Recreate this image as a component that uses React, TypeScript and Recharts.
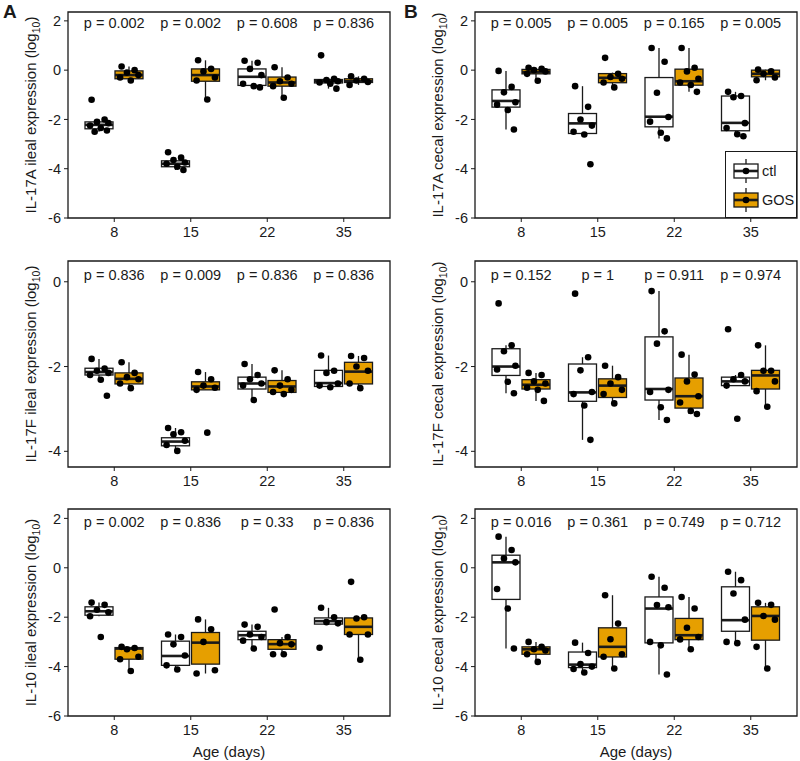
import React from 'react';
import { ComposedChart, Bar, Scatter, XAxis, YAxis, ReferenceArea, Label, Legend } from 'recharts';

const DAYS = ['8', '15', '22', '35'];
const GROUPS = ['ctl', 'GOS'];

// box stats per day: [lower whisker, q1, median, q3, upper whisker]
// IL-17A ileal
const il17aIlealCtl = [
  [-1.2, -2.0, -2.1, -2.15, -2.25, -2.35, -2.45, -2.5],
  [-3.33, -3.55, -3.65, -3.75, -3.8, -3.92, -4.05],
  [0.38, 0.3, 0.05, -0.2, -0.55, -0.65, -0.7],
  [0.6, -0.35, -0.4, -0.45, -0.5, -0.55, -0.75],
];
const il17aIlealCtlBox = [
  [-2.5, -2.38, -2.22, -2.1, -2.0],
  [-4.05, -3.92, -3.8, -3.68, -3.55],
  [-0.7, -0.62, -0.27, 0.05, 0.38],
  [-0.75, -0.52, -0.45, -0.38, -0.35],
];
const il17aIlealGos = [
  [0.15, 0.0, -0.1, -0.2, -0.3, -0.42],
  [0.4, 0.05, -0.05, -0.3, -0.42, -1.19],
  [0.12, -0.3, -0.45, -0.55, -0.65, -1.12],
  [-0.25, -0.35, -0.42, -0.48, -0.6],
];
const il17aIlealGosBox = [
  [-0.42, -0.35, -0.2, -0.03, 0.15],
  [-1.19, -0.45, -0.2, 0.05, 0.4],
  [-1.12, -0.65, -0.5, -0.28, 0.12],
  [-0.6, -0.5, -0.45, -0.35, -0.25],
];
const il17aIlealP = ['0.002', '0.002', '0.608', '0.836'];

// IL-17A cecal
const il17aCecalCtl = [
  [-0.03, -0.68, -0.9, -1.3, -1.4, -1.62, -2.41],
  [-0.65, -1.49, -2.0, -2.25, -2.5, -2.61, -3.82],
  [0.9, 0.34, -0.92, -1.9, -2.09, -2.54, -2.77],
  [-0.88, -1.05, -1.1, -2.15, -2.35, -2.6, -2.68],
];
const il17aCecalCtlBox = [
  [-2.41, -1.5, -1.25, -0.8, -0.03],
  [-2.61, -2.57, -2.16, -1.76, -0.65],
  [-2.77, -2.3, -1.89, -0.3, 0.9],
  [-2.68, -2.46, -2.14, -1.05, -0.88],
];
const il17aCecalGos = [
  [0.1, 0.05, 0.0, -0.05, -0.15, -0.43],
  [0.5, -0.15, -0.28, -0.35, -0.5, -0.7],
  [0.9, 0.1, -0.05, -0.35, -0.5, -0.6, -0.88],
  [0.02, -0.05, -0.15, -0.3, -0.41],
];
const il17aCecalGosBox = [
  [-0.43, -0.15, -0.08, 0.03, 0.1],
  [-0.7, -0.51, -0.31, -0.14, -0.1],
  [-0.88, -0.61, -0.45, 0.04, 0.9],
  [-0.41, -0.27, -0.15, 0.0, 0.02],
];
const il17aCecalP = ['0.005', '0.005', '0.165', '0.005'];

// IL-17F ileal
const il17fIlealCtl = [
  [-1.82, -2.05, -2.1, -2.15, -2.2, -2.31, -2.69],
  [-3.45, -3.55, -3.6, -3.75, -3.85, -3.99],
  [-1.94, -2.2, -2.3, -2.4, -2.45, -2.79],
  [-1.74, -2.1, -2.15, -2.4, -2.45, -2.49],
];
const il17fIlealCtlBox = [
  [-2.31, -2.2, -2.13, -2.04, -1.82],
  [-3.99, -3.87, -3.77, -3.68, -3.45],
  [-2.79, -2.53, -2.4, -2.25, -1.94],
  [-2.49, -2.47, -2.39, -2.09, -1.74],
];
const il17fIlealGos = [
  [-1.9, -2.15, -2.25, -2.3, -2.4, -2.51],
  [-2.13, -2.3, -2.45, -2.5, -2.55, -3.56],
  [-2.09, -2.3, -2.45, -2.55, -2.6, -2.65],
  [-1.75, -1.8, -2.0, -2.1, -2.4, -2.51],
];
const il17fIlealGosBox = [
  [-2.51, -2.41, -2.29, -2.15, -1.9],
  [-2.55, -2.55, -2.47, -2.36, -2.13],
  [-2.65, -2.61, -2.47, -2.33, -2.09],
  [-2.51, -2.41, -2.12, -1.9, -1.75],
];
const il17fIlealP = ['0.836', '0.009', '0.836', '0.836'];

// IL-17F cecal
const il17fCecalCtl = [
  [-0.51, -1.5, -1.64, -1.98, -2.07, -2.36, -2.63],
  [-0.28, -1.78, -2.09, -2.6, -2.65, -2.92, -3.73],
  [-0.22, -1.17, -1.46, -2.55, -2.6, -2.96, -3.26],
  [-1.12, -2.2, -2.3, -2.35, -2.45, -3.23],
];
const il17fCecalCtlBox = [
  [-2.63, -2.21, -2.0, -1.58, -1.5],
  [-3.73, -2.82, -2.61, -1.94, -1.78],
  [-3.26, -2.79, -2.53, -1.3, -0.22],
  [-2.45, -2.45, -2.35, -2.25, -2.2],
];
const il17fCecalGos = [
  [-2.15, -2.2, -2.35, -2.4, -2.5, -2.55, -2.81],
  [-1.98, -2.25, -2.4, -2.55, -2.65, -2.87],
  [-1.72, -2.19, -2.35, -2.7, -2.85, -3.05, -3.12],
  [-1.5, -2.1, -2.1, -2.35, -2.58, -2.95],
];
const il17fCecalGosBox = [
  [-2.81, -2.53, -2.43, -2.31, -2.15],
  [-2.87, -2.73, -2.45, -2.29, -1.98],
  [-3.12, -2.98, -2.7, -2.27, -1.72],
  [-2.95, -2.53, -2.21, -2.09, -1.5],
];
const il17fCecalP = ['0.152', '1', '0.911', '0.974'];

// IL-10 ileal
const il10IlealCtl = [
  [-1.41, -1.5, -1.7, -1.8, -1.96, -2.8],
  [-2.7, -2.8, -3.1, -3.55, -3.95, -4.12],
  [-2.3, -2.39, -2.7, -2.8, -2.95, -3.27],
  [-1.62, -2.0, -2.2, -2.25, -3.24],
];
const il10IlealCtlBox = [
  [-1.96, -1.92, -1.76, -1.58, -1.41],
  [-4.12, -3.95, -3.57, -2.97, -2.7],
  [-3.27, -2.91, -2.73, -2.57, -2.3],
  [-2.28, -2.28, -2.16, -2.03, -1.62],
];
const il10IlealGos = [
  [-3.2, -3.25, -3.3, -3.6, -3.7, -4.18],
  [-2.09, -2.49, -3.0, -4.15, -4.28],
  [-1.69, -2.8, -3.05, -3.1, -3.5, -3.5],
  [-0.57, -2.0, -2.05, -2.7, -2.7, -3.72],
];
const il10IlealGosBox = [
  [-4.18, -3.7, -3.27, -3.23, -3.2],
  [-4.28, -3.9, -3.03, -2.62, -2.09],
  [-3.5, -3.3, -3.09, -2.91, -2.8],
  [-3.72, -2.7, -2.39, -2.03, -2.0],
];
const il10IlealP = ['0.002', '0.836', '0.33', '0.836'];

// IL-10 cecal
const il10CecalCtl = [
  [1.26, 0.72, 0.38, 0.22, -0.86, -1.65, -3.27],
  [-3.03, -3.45, -3.9, -4.0, -4.1, -4.24],
  [-0.36, -0.81, -1.51, -1.6, -3.0, -3.14, -4.32],
  [-0.16, -0.5, -1.04, -2.1, -3.0, -3.05],
];
const il10CecalCtlBox = [
  [-3.27, -1.28, 0.22, 0.51, 1.26],
  [-4.24, -4.04, -3.92, -3.41, -3.03],
  [-4.32, -3.04, -1.65, -1.18, -0.36],
  [-3.05, -2.57, -2.12, -0.77, -0.16],
];
const il10CecalGos = [
  [-3.0, -3.2, -3.3, -3.35, -3.5, -3.81],
  [-1.11, -2.26, -2.89, -3.5, -3.6, -4.08],
  [-1.18, -1.65, -2.43, -2.8, -2.9, -3.3],
  [-1.42, -1.5, -1.95, -2.1, -3.2, -4.08],
];
const il10CecalGosBox = [
  [-3.81, -3.5, -3.3, -3.2, -3.0],
  [-4.08, -3.61, -3.2, -2.43, -1.11],
  [-3.3, -2.91, -2.73, -2.05, -1.18],
  [-4.08, -2.93, -1.95, -1.58, -1.42],
];
const il10CecalP = ['0.016', '0.361', '0.749', '0.712'];

const FONT = '"Liberation Sans", Arial, Helvetica, sans-serif';
const INK = '#1a1a1a';
const ORANGE = '#E69F00';
const PLOT_W = 322;
const PAD = 8;
const BAND = (PLOT_W - 2 * PAD) / DAYS.length;
const XDOM: [number, number] = [0.5 - PAD / BAND, DAYS.length + 0.5 + PAD / BAND];
const BAR = 28;
const GAP = 2;
const DODGE = (BAR + GAP) / 2 / BAND;
const JITTER = [-0.1, 0.07, -0.03, 0.12, -0.12, 0.02, 0.1, -0.06];

const ROWS = [
  { top: 0, height: 250, mt: 12, mb: 4, axisH: 28, yDomain: [-6, 2.36], yTicks: [-6, -4, -2, 0, 2], pY: 1.9 },
  { top: 250, height: 250, mt: 11, mb: 5, axisH: 28, yDomain: [-4.37, 0.49], yTicks: [-4, -2, 0], pY: 0.16 },
  { top: 500, height: 261, mt: 9, mb: 0, axisH: 45, yDomain: [-6, 2.38], yTicks: [-6, -4, -2, 0, 2], pY: 1.87, xTitle: 'Age (days)' },
];
const COLS = [
  { left: 0, ml: 10, mr: 10 },
  { left: 400, ml: 17, mr: 3 },
];

const panels = [
  { title: 'IL-17A ileal expression', row: 0, col: 0, ctl: il17aIlealCtl, ctlBox: il17aIlealCtlBox, gos: il17aIlealGos, gosBox: il17aIlealGosBox, p: il17aIlealP },
  { title: 'IL-17A cecal expression', row: 0, col: 1, ctl: il17aCecalCtl, ctlBox: il17aCecalCtlBox, gos: il17aCecalGos, gosBox: il17aCecalGosBox, p: il17aCecalP, legend: true },
  { title: 'IL-17F ileal expression', row: 1, col: 0, ctl: il17fIlealCtl, ctlBox: il17fIlealCtlBox, gos: il17fIlealGos, gosBox: il17fIlealGosBox, p: il17fIlealP },
  { title: 'IL-17F cecal expression', row: 1, col: 1, ctl: il17fCecalCtl, ctlBox: il17fCecalCtlBox, gos: il17fCecalGos, gosBox: il17fCecalGosBox, p: il17fCecalP },
  { title: 'IL-10 ileal expression', row: 2, col: 0, ctl: il10IlealCtl, ctlBox: il10IlealCtlBox, gos: il10IlealGos, gosBox: il10IlealGosBox, p: il10IlealP },
  { title: 'IL-10 cecal expression', row: 2, col: 1, ctl: il10CecalCtl, ctlBox: il10CecalCtlBox, gos: il10CecalGos, gosBox: il10CecalGosBox, p: il10CecalP },
];

const tickStyle = { fontSize: 14.5, fill: INK, fontFamily: FONT };

// range accessors; other series' data may be passed through, so guard
const range = (key: string, a: number, b: number) => (r: any) =>
  r && Array.isArray(r[key]) ? [r[key][a], r[key][b]] : undefined;

const WhiskerShape = (props: any) => {
  const { x, y, width, height } = props;
  if (x == null || y == null) return null;
  const cx = x + width / 2;
  return <line x1={cx} x2={cx} y1={y} y2={y + height} stroke={INK} strokeWidth={1.3} />;
};

const makeBox = (key: 'ctl' | 'gos', fill: string) => (props: any) => {
  const { x, y, width, height, payload } = props;
  if (x == null || y == null || !payload || !Array.isArray(payload[key])) return null;
  const [, q1, med, q3] = payload[key];
  const top = Math.min(y, y + height);
  const h = Math.abs(height);
  const my = top + ((q3 - med) / (q3 - q1)) * h;
  return (
    <g>
      <rect x={x} y={top} width={width} height={h} fill={fill} stroke={INK} strokeWidth={1.3} />
      <line x1={x} x2={x + width} y1={my} y2={my} stroke={INK} strokeWidth={2.6} />
    </g>
  );
};
const CtlBox = makeBox('ctl', '#ffffff');
const GosBox = makeBox('gos', ORANGE);

const Dot = (props: any) => <circle cx={props.cx} cy={props.cy} r={3.3} fill="#000" />;

const PText = (props: any) => (
  <text x={props.cx} y={props.cy} textAnchor="middle" dominantBaseline="central" fontSize={14.5} fill={INK} fontFamily={FONT}>
    {props.payload ? props.payload.t : ''}
  </text>
);

const yTitle = (title: string) => (props: any) => {
  const vb = props.viewBox;
  if (!vb) return null;
  const cx = vb.x + vb.width - 38;
  const cy = vb.y + vb.height / 2;
  return (
    <text x={cx} y={cy} transform={`rotate(-90, ${cx}, ${cy})`} textAnchor="middle" dominantBaseline="central" fontSize={15} fill={INK} fontFamily={FONT}>
      {title} (log<tspan baselineShift="sub" fontSize="70%">10</tspan>)
    </text>
  );
};

const LegendBox = () => (
  <div style={{ width: 72, height: 67, boxSizing: 'border-box', border: `1.3px solid ${INK}`, background: '#fff', padding: '4px 0 0 7px', fontFamily: FONT }}>
    {GROUPS.map((g, i) => (
      <div key={g} style={{ display: 'flex', alignItems: 'center', height: 29 }}>
        <svg width={26} height={28}>
          <line x1={13} x2={13} y1={2} y2={26} stroke={INK} strokeWidth={1.3} />
          <rect x={1} y={7} width={24} height={14} fill={i === 0 ? '#fff' : ORANGE} stroke={INK} strokeWidth={1.3} />
          <line x1={1} x2={25} y1={14} y2={14} stroke={INK} strokeWidth={2.6} />
          <circle cx={13} cy={14} r={3.3} fill="#000" />
        </svg>
        <span style={{ marginLeft: 3, fontSize: 14.5, color: INK }}>{g}</span>
      </div>
    ))}
  </div>
);

const toPoints = (vals: number[][], side: number) =>
  vals.flatMap((day, i) => day.map((v, k) => ({ x: i + 1 + side * DODGE + JITTER[k % JITTER.length], y: v })));

function PanelChart({ panel }: { panel: any }) {
  const row = ROWS[panel.row];
  const col = COLS[panel.col];
  const rows = DAYS.map((day, i) => ({ day, ctl: panel.ctlBox[i], gos: panel.gosBox[i] }));
  const ctlPts = toPoints(panel.ctl, -1);
  const gosPts = toPoints(panel.gos, 1);
  const pData = DAYS.map((_, i) => ({ x: i + 1, y: row.pY, t: `p = ${panel.p[i]}` }));

  return (
    <div style={{ position: 'absolute', left: col.left, top: row.top }}>
      <ComposedChart
        width={400}
        height={row.height}
        data={rows}
        margin={{ top: row.mt, right: col.mr, bottom: row.mb, left: col.ml }}
        barGap={GAP}
      >
        <XAxis
          xAxisId="cat"
          dataKey="day"
          padding={{ left: PAD, right: PAD }}
          height={row.axisH}
          interval={0}
          axisLine={false}
          tickSize={4}
          tickMargin={5}
          tickLine={{ stroke: INK }}
          tick={tickStyle}
        >
          {row.xTitle && (
            <Label value={row.xTitle} position="insideBottom" offset={4} style={{ fontSize: 15, fill: INK, fontFamily: FONT }} />
          )}
        </XAxis>
        <XAxis xAxisId="box" dataKey="day" padding={{ left: PAD, right: PAD }} height={0} hide />
        <XAxis xAxisId="num" type="number" dataKey="x" domain={XDOM} allowDataOverflow height={0} hide />
        <YAxis
          type="number"
          domain={row.yDomain}
          ticks={row.yTicks}
          allowDataOverflow
          width={58}
          axisLine={false}
          tickSize={4}
          tickMargin={3}
          tickLine={{ stroke: INK }}
          tick={tickStyle}
        >
          <Label content={yTitle(panel.title)} />
        </YAxis>
        <ReferenceArea
          xAxisId="num"
          x1={XDOM[0]}
          x2={XDOM[1]}
          y1={row.yDomain[0]}
          y2={row.yDomain[1]}
          fill="none"
          stroke={INK}
          strokeWidth={1.3}
          ifOverflow="visible"
        />
        <Bar xAxisId="cat" dataKey={range('ctl', 0, 4)} barSize={BAR} shape={WhiskerShape} isAnimationActive={false} />
        <Bar xAxisId="cat" dataKey={range('gos', 0, 4)} barSize={BAR} shape={WhiskerShape} isAnimationActive={false} />
        <Bar xAxisId="box" name="ctl" dataKey={range('ctl', 1, 3)} barSize={BAR} shape={CtlBox} isAnimationActive={false} />
        <Bar xAxisId="box" name="GOS" dataKey={range('gos', 1, 3)} barSize={BAR} shape={GosBox} isAnimationActive={false} />
        <Scatter xAxisId="num" data={ctlPts} dataKey="y" shape={Dot} isAnimationActive={false} />
        <Scatter xAxisId="num" data={gosPts} dataKey="y" shape={Dot} isAnimationActive={false} />
        <Scatter xAxisId="num" data={pData} dataKey="y" shape={PText} isAnimationActive={false} />
        {panel.legend && (
          <Legend
            layout="vertical"
            align="center"
            verticalAlign="middle"
            content={LegendBox}
            wrapperStyle={{ left: 325, top: 151, width: 72, height: 67 }}
          />
        )}
      </ComposedChart>
    </div>
  );
}

export default function App() {
  return (
    <div style={{ position: 'absolute', left: 0, top: 0, width: 800, height: 761, background: '#fff', fontFamily: FONT }}>
      {panels.map((p) => (
        <PanelChart key={p.title} panel={p} />
      ))}
      <div style={{ position: 'absolute', left: 3, top: 2, fontSize: 19, lineHeight: '19px', fontWeight: 'bold', color: INK }}>A</div>
      <div style={{ position: 'absolute', left: 404, top: 2, fontSize: 19, lineHeight: '19px', fontWeight: 'bold', color: INK }}>B</div>
    </div>
  );
}
